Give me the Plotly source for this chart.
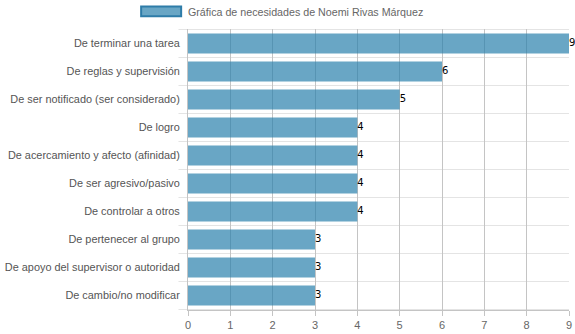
import plotly.graph_objects as go

categories = [
    "De terminar una tarea",
    "De reglas y supervisión",
    "De ser notificado (ser considerado)",
    "De logro",
    "De acercamiento y afecto (afinidad)",
    "De ser agresivo/pasivo",
    "De controlar a otros",
    "De pertenecer al grupo",
    "De apoyo del supervisor o autoridad",
    "De cambio/no modificar",
]
values = [9, 6, 5, 4, 4, 4, 4, 3, 3, 3]
series_name = "Gráfica de necesidades de Noemi Rivas Márquez"
x_ticks = [0, 1, 2, 3, 4, 5, 6, 7, 8, 9]

bar_fill = "rgba(41,128,172,0.7)"
bar_line = "#2e7ca8"
font_family = "Liberation Sans, Arial, sans-serif"

fig = go.Figure()
fig.add_trace(go.Bar(
    y=categories, x=values, orientation="h", name=series_name,
    marker=dict(color=bar_fill, line=dict(width=0)),
    width=0.72, showlegend=False, hoverinfo="x+y",
))
fig.add_trace(go.Scatter(
    y=categories, x=values, mode="text",
    text=[str(v) for v in values], textposition="middle right",
    textfont=dict(size=10, color="#000", family="DejaVu Sans, sans-serif"),
    cliponaxis=False, showlegend=False, hoverinfo="skip",
))

n = len(categories)
shapes = []
for i in range(n + 1):
    shapes.append(dict(type="line", xref="paper", yref="y",
                       x0=-0.025, x1=1, y0=i - 0.5, y1=i - 0.5,
                       line=dict(color="#e4e4e4", width=1), layer="below"))
# legend box
shapes.append(dict(type="rect", xref="paper", yref="paper",
                   x0=-0.123, x1=-0.018, y0=1.045, y1=1.08,
                   fillcolor=bar_fill, line=dict(color=bar_line, width=2)))

fig.update_layout(
    width=575, height=334,
    margin=dict(l=188, r=6, t=29, b=24, autoexpand=False),
    paper_bgcolor="white", plot_bgcolor="white",
    font=dict(family=font_family, size=11, color="#666"),
    shapes=shapes,
    annotations=[dict(text=series_name, xref="paper", yref="paper",
                      x=-0.006, y=1.062, xanchor="left", yanchor="middle",
                      showarrow=False, font=dict(size=10.7, color="#666"))],
    xaxis=dict(range=[0, 9], tickvals=x_ticks, showgrid=True,
               gridcolor="#c4c4c4", gridwidth=1, zeroline=False,
               showline=True, linecolor="#c4c4c4", automargin=False,
               ticks="outside", ticklen=5, tickcolor="#c4c4c4",
               tickfont=dict(size=11, color="#666"), fixedrange=True),
    yaxis=dict(autorange="reversed", showgrid=False, zeroline=False,
               showline=True, linecolor="#c4c4c4", automargin=False,
               ticks="", ticklabelstandoff=5,
               tickfont=dict(size=10.9, color="#555"), fixedrange=True),
)

fig.write_html("out.html")
